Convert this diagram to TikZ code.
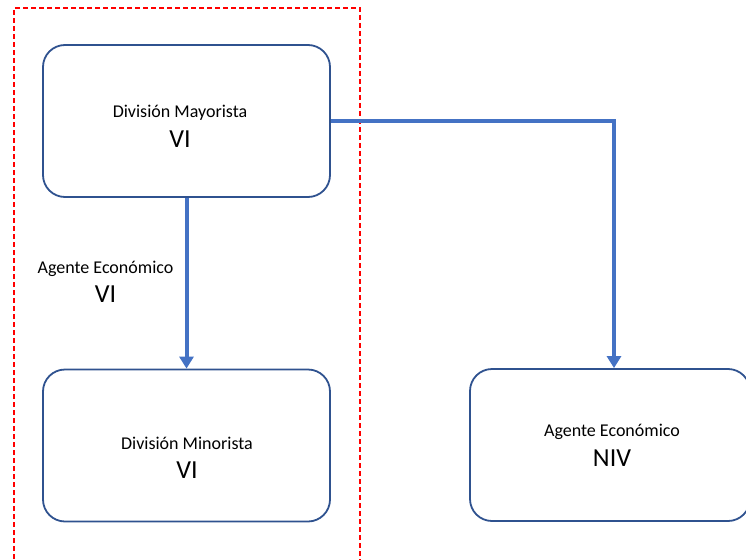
\documentclass[tikz,border=0pt]{standalone}
\usepackage{fontspec}
\setmainfont{Carlito}
\usetikzlibrary{arrows.meta}
\definecolor{boxblue}{HTML}{2F528F}
\definecolor{arrowblue}{HTML}{4472C4}
\tikzset{unit/.style={draw=boxblue, line width=1.8pt, rounded corners=22pt,
      minimum width=287pt, minimum height=152pt, inner sep=0pt}}
\tikzset{lbl/.style={align=center, anchor=base, inner sep=0pt,
      font=\fontsize{18}{29.6}\selectfont}}
\tikzset{flow/.style={draw=arrowblue, line width=4pt,
      -{Triangle[length=12pt,width=14pt]}}}
\newcommand{\grado}[1]{{\fontsize{26}{30}\selectfont #1}}

\begin{document}
\begin{tikzpicture}[x=1pt, y=-1pt]
		\useasboundingbox (0,0) rectangle (746,559);
		\draw[red, line width=1.8pt, dash pattern=on 5pt off 3pt] (14,575) -- (14,8) -- (360,8) -- (360,575);
		\node[unit] (may) at (186.5,121) {};
		\node[unit] (min) at (186.5,445.5) {};
		\node[unit, minimum width=280pt] (niv) at (610,445) {};
		% base anchor sits on the last line
		\node[lbl] (mayT) at (180,147.3) {División Mayorista\\\grado{VI}};
		\node[lbl] (minT) at (187,478.6) {División Minorista\\\grado{VI}};
		\node[lbl] (nivT) at (612,466) {Agente Económico\\\grado{NIV}};
		\node[lbl] (agT) at (105.5,302.7) {Agente Económico\\\grado{VI}};
		\draw[flow] (may.south) -- (min.north);
		\draw[flow] (may.east) -| ([xshift=4pt]niv.north);
		\end{tikzpicture}
\end{document}
